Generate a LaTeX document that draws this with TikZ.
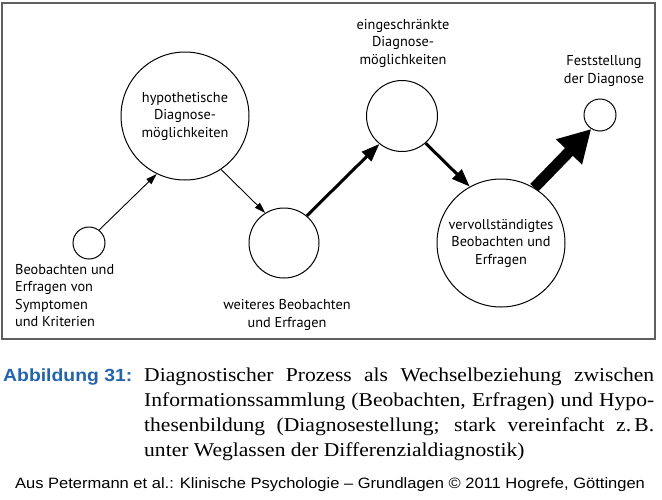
\documentclass[tikz,border=0pt]{standalone}
\usepackage{xcolor}
\usepackage{fontspec}
\usepackage{tikz}
\usetikzlibrary{shapes.geometric, arrows.meta, positioning, calc}
\newfontfamily\diafont{PT Sans}
\newfontfamily\capfont[FakeStretch=1.1]{Liberation Serif}
\newfontfamily\srcfont[FakeStretch=1.1]{Liberation Sans}
\definecolor{abbblue}{RGB}{35, 100, 172}
\definecolor{framegray}{RGB}{95, 95, 95}

\begin{document}
\begin{tikzpicture}[x=1pt, y=-1pt,
    bubble/.style={circle, draw, line width=1pt, inner sep=0pt, align=center,
                   font=\diafont\fontsize{14.3}{17.5}\selectfont},
    lbl/.style={inner sep=0pt, font=\diafont\fontsize{14.3}{17.5}\selectfont},
    thinarrow/.style={line width=0.9pt, -{Triangle[width=7pt, length=11pt]}},
    midarrow/.style={line width=3pt, -{Triangle[width=13pt, length=18pt]}},
    bigarrow/.style={line width=11pt, -{Triangle[width=34pt, length=32pt]}}]
    \useasboundingbox (0,0) rectangle (662,499);
    \draw[framegray, line width=1.3pt] (2,3) rectangle (655,339);

    % Kreise
    \node[bubble, minimum size=32pt] (start) at (89,243) {};
    \node[bubble, minimum size=128pt] (hypo) at (185,116) {hypothetische\\Diagnose-\\möglichkeiten};
    \node[bubble, minimum size=70pt] (weiter) at (284,243) {};
    \node[bubble, minimum size=71pt] (einge) at (402,116) {};
    \node[bubble, minimum size=128pt] (voll) at (501,243) {vervollständigtes\\Beobachten und\\Erfragen};
    \node[bubble, minimum size=32pt] (fest) at (600,115) {};

    % Beschriftungen
    \node[lbl, align=left, anchor=north west] (startlbl) at (15,264) {Beobachten und\\Erfragen von\\Symptomen\\und Kriterien};
    \node[lbl, align=center] (weiterlbl) at (287,315) {weiteres Beobachten\\und Erfragen};
    \node[lbl, align=center] (eingelbl) at (403,43) {eingeschränkte\\Diagnose-\\möglichkeiten};
    \node[lbl, align=center] (festlbl) at (604,71) {Feststellung\\der Diagnose};

    % Pfeile
    \draw[thinarrow] (start.52) -- (hypo.244);
    \draw[thinarrow] (hypo.304) -- (weiter.122);
    \draw[midarrow] (weiter.50) -- (einge.231);
    \draw[midarrow] (einge.311) -- (voll.119);
    \draw[bigarrow] (voll.59) -- (fest.238);

    % Bildunterschrift
    \node[anchor=base west, inner sep=0pt, text=abbblue,
          font=\srcfont\bfseries\fontsize{17.6}{20}\selectfont] (abb) at (3,381) {Abbildung 31:};
    \node[anchor=north west, inner sep=0pt, text width=510pt, align=justify,
          font=\capfont\fontsize{19.6}{25}\selectfont] (cap) at (144,367.5)
          {Diagnostischer Prozess als Wechselbeziehung zwischen\linebreak
           Informationssammlung (Beobachten, Erfragen) und Hypo-\linebreak
           thesenbildung (Diagnosestellung; stark vereinfacht z.\,B.\linebreak
           unter Weglassen der Differenzialdiagnostik)};
    \node[anchor=base west, inner sep=0pt, font=\srcfont\fontsize{15}{18}\selectfont] (src) at (15,488)
          {Aus Petermann et al.: Klinische Psychologie – Grundlagen © 2011 Hogrefe, Göttingen};
\end{tikzpicture}
\end{document}
